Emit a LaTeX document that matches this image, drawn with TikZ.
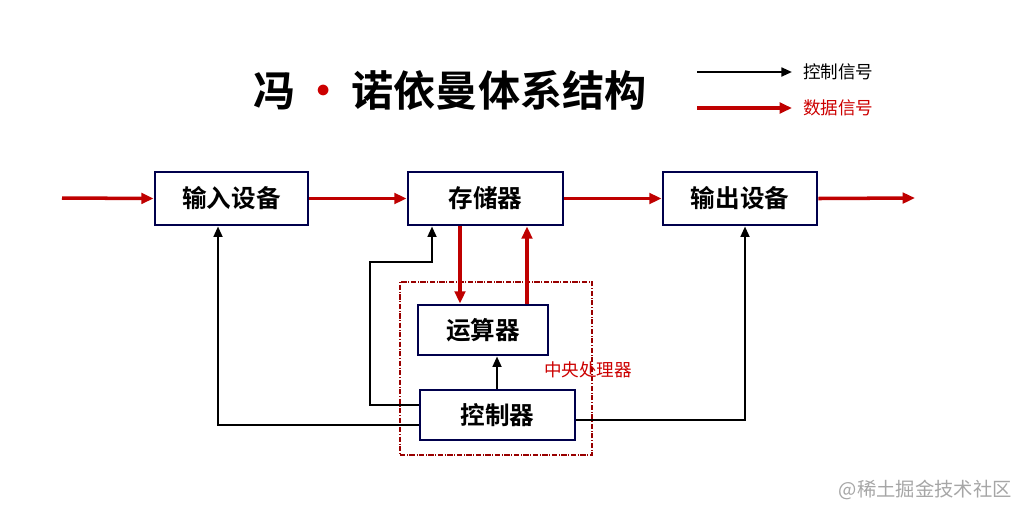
\documentclass[tikz,border=0pt]{standalone}
\usepackage{fontspec}
\newfontfamily\cjk{Noto Sans CJK SC}
\newfontfamily\cjkb{Noto Sans CJK SC Bold}
\usetikzlibrary{arrows.meta}
\begin{document}
\begin{tikzpicture}[x=0.02cm,y=-0.02cm,
  box/.style={draw=blue!30!black,line width=1.6pt,fill=white,inner sep=0pt,font=\cjkb\fontsize{14}{14}\selectfont},
  data/.style={draw=red!75!black,line width=2pt,-{Triangle[length=7pt,width=6pt]}},
  ctrl/.style={draw=black,line width=1.3pt,-{Triangle[length=6pt,width=5pt]}}]
\useasboundingbox (0,0) rectangle (1026,508);
\node[font=\cjkb\fontsize{24}{24}\selectfont] (title) at (450,90) {冯\,{\color{red!80!black}·}\,诺依曼体系结构};
\coordinate (la) at (697,72); \coordinate (lb) at (792,72);
\coordinate (lc) at (697,108); \coordinate (ld) at (792,108);
\draw[ctrl] (la) -- (lb);
\draw[data] (lc) -- (ld);
\node[font=\cjk\fontsize{10}{10}\selectfont,anchor=west] (lt1) at (797,72) {控制信号};
\node[font=\cjk\fontsize{10}{10}\selectfont,anchor=west,text=red!80!black] (lt2) at (797,108) {数据信号};
\node[draw=red!60!black,densely dashdotted,line width=0.6pt,minimum width=192*0.02cm,minimum height=173*0.02cm] (cpu) at (496,368.5) {};
\node[font=\cjk\fontsize{10}{10}\selectfont,text=red!80!black,anchor=west] (cpul) at (538,370) {中央处理器};
\node[box,minimum width=153*0.02cm,minimum height=53*0.02cm] (in) at (231.5,198.5) {输入设备};
\node[box,minimum width=155*0.02cm,minimum height=53*0.02cm] (mem) at (485.5,198.5) {存储器};
\node[box,minimum width=154*0.02cm,minimum height=53*0.02cm] (out) at (740,198.5) {输出设备};
\node[box,minimum width=130*0.02cm,minimum height=50*0.02cm] (alu) at (483,330) {运算器};
\node[box,minimum width=155*0.02cm,minimum height=50*0.02cm] (cu) at (497.5,415) {控制器};
\coordinate (s) at (62,198); \coordinate (e) at (915,198);
\draw[data] (s) -- (in.west);
\draw[data] (in.east) -- (mem.west);
\draw[data] (mem.east) -- (out.west);
\draw[data] (out.east) -- (e);
\draw[data] (mem.south -| 460,0) -- (alu.north -| 460,0);
\draw[data] (alu.north -| 527,0) -- (mem.south -| 527,0);
\draw[ctrl] (cu.north -| 497,0) -- (alu.south -| 497,0);
\draw[ctrl] (cu.west |- 0,405) -- (370,405) -- (370,262) -- (432,262) -- (mem.south -| 432,0);
\draw[ctrl] (cu.west |- 0,425) -- (218,425) -- (in.south -| 218,0);
\draw[ctrl] (cu.east |- 0,420) -- (745,420) -- (out.south -| 745,0);
\node[font=\cjk\fontsize{11}{11}\selectfont,text=gray!70,anchor=east] (wm) at (1018,490) {@稀土掘金技术社区};
\end{tikzpicture}
\end{document}
